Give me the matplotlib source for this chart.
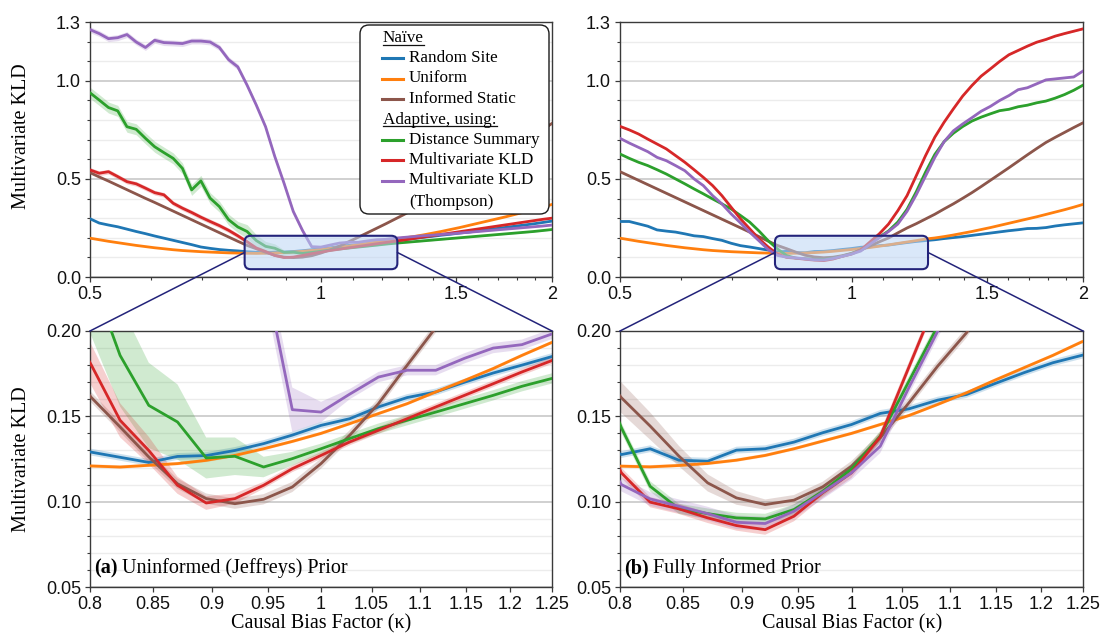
import numpy as np
import matplotlib
matplotlib.use("Agg")
import matplotlib.pyplot as plt
from matplotlib.patches import FancyBboxPatch
from matplotlib.lines import Line2D
from matplotlib.transforms import IdentityTransform
from matplotlib.ticker import FixedLocator, FixedFormatter, NullFormatter

# ---------------- data ----------------
kappa = np.geomspace(0.5, 2.0, 51)   # causal bias factor grid (log-spaced)

# (a) Uninformed (Jeffreys) prior
blue_a = [0.297, 0.275, 0.265, 0.256, 0.244, 0.232, 0.221, 0.209, 0.198, 0.187, 0.176, 0.165, 0.153, 0.146, 0.140, 0.136, 0.133,
          0.129, 0.126, 0.123, 0.1265, 0.127, 0.130, 0.134, 0.139, 0.1447, 0.1486, 0.1555, 0.161, 0.1643, 0.170, 0.1754, 0.180, 0.1848,
          0.190, 0.196, 0.202, 0.207, 0.213, 0.218, 0.224, 0.229, 0.235, 0.241, 0.247, 0.253, 0.259, 0.265, 0.271, 0.278, 0.285]
orange_a = [0.198, 0.190, 0.182, 0.175, 0.168, 0.161, 0.155, 0.149, 0.144, 0.139, 0.135, 0.132, 0.129, 0.127, 0.125, 0.123, 0.122,
            0.1209, 0.1203, 0.1213, 0.1223, 0.1242, 0.1271, 0.131, 0.1353, 0.140, 0.1457, 0.1516, 0.1574, 0.1643, 0.171, 0.178, 0.1857, 0.193,
            0.199, 0.206, 0.214, 0.223, 0.232, 0.242, 0.252, 0.263, 0.274, 0.285, 0.296, 0.307, 0.319, 0.331, 0.343, 0.356, 0.370]
brown_a = [0.532, 0.510, 0.489, 0.467, 0.445, 0.423, 0.401, 0.380, 0.358, 0.336, 0.314, 0.292, 0.270, 0.248, 0.226, 0.204, 0.182,
           0.161, 0.1438, 0.1262, 0.1105, 0.1018, 0.0988, 0.1014, 0.1086, 0.1223, 0.1389, 0.1574, 0.1799, 0.202, 0.225, 0.248, 0.271, 0.295,
           0.319, 0.344, 0.370, 0.396, 0.423, 0.451, 0.479, 0.508, 0.537, 0.567, 0.597, 0.628, 0.659, 0.690, 0.721, 0.752, 0.783]
green_a = [0.939, 0.902, 0.864, 0.847, 0.766, 0.753, 0.707, 0.664, 0.634, 0.605, 0.554, 0.444, 0.490, 0.402, 0.359, 0.292, 0.255,
           0.232, 0.1857, 0.1564, 0.1467, 0.1256, 0.1266, 0.1203, 0.1252, 0.131, 0.137, 0.1428, 0.1477, 0.1525, 0.1574, 0.1623, 0.1676, 0.172,
           0.176, 0.180, 0.184, 0.188, 0.192, 0.196, 0.200, 0.204, 0.208, 0.212, 0.216, 0.220, 0.224, 0.228, 0.232, 0.237, 0.242]
red_a = [0.546, 0.529, 0.537, 0.512, 0.486, 0.475, 0.453, 0.430, 0.419, 0.376, 0.351, 0.329, 0.305, 0.283, 0.262, 0.238, 0.210,
         0.180, 0.1477, 0.130, 0.1096, 0.0992, 0.1018, 0.1096, 0.1193, 0.1271, 0.135, 0.1418, 0.1486, 0.1555, 0.1623, 0.1691, 0.176, 0.1824,
         0.189, 0.196, 0.203, 0.210, 0.217, 0.224, 0.231, 0.238, 0.245, 0.252, 0.259, 0.266, 0.273, 0.280, 0.287, 0.294, 0.300]
purple_a = [1.261, 1.241, 1.215, 1.220, 1.236, 1.198, 1.170, 1.207, 1.195, 1.193, 1.190, 1.203, 1.203, 1.198, 1.170, 1.108, 1.071,
            0.978, 0.876, 0.766, 0.614, 0.478, 0.334, 0.237, 0.1539, 0.1525, 0.163, 0.173, 0.177, 0.177, 0.184, 0.190, 0.192, 0.198,
            0.202, 0.206, 0.210, 0.213, 0.217, 0.220, 0.224, 0.228, 0.232, 0.236, 0.240, 0.244, 0.248, 0.252, 0.256, 0.260, 0.265]

# (b) Fully informed prior
blue_b = [0.283, 0.283, 0.271, 0.259, 0.240, 0.234, 0.229, 0.220, 0.210, 0.206, 0.196, 0.187, 0.172, 0.160, 0.153, 0.145, 0.137,
          0.1276, 0.131, 0.1243, 0.1237, 0.1302, 0.131, 0.1349, 0.1404, 0.1452, 0.1517, 0.1544, 0.1595, 0.1628, 0.1693, 0.1756, 0.1814, 0.1857,
          0.190, 0.196, 0.201, 0.206, 0.212, 0.218, 0.224, 0.230, 0.236, 0.241, 0.247, 0.248, 0.252, 0.260, 0.266, 0.271, 0.276]
orange_b = [0.198, 0.190, 0.182, 0.175, 0.168, 0.161, 0.155, 0.149, 0.144, 0.139, 0.135, 0.132, 0.129, 0.127, 0.125, 0.123, 0.122,
            0.1208, 0.1204, 0.1212, 0.1224, 0.1243, 0.1271, 0.131, 0.1355, 0.140, 0.1452, 0.1505, 0.157, 0.1638, 0.1713, 0.1785, 0.1857, 0.1936,
            0.199, 0.206, 0.214, 0.223, 0.232, 0.242, 0.252, 0.263, 0.274, 0.285, 0.296, 0.307, 0.319, 0.331, 0.343, 0.356, 0.370]
brown_b = [0.537, 0.515, 0.493, 0.471, 0.449, 0.427, 0.405, 0.383, 0.361, 0.339, 0.317, 0.295, 0.273, 0.251, 0.229, 0.206, 0.183,
           0.1609, 0.1443, 0.1267, 0.111, 0.1022, 0.0983, 0.1009, 0.1087, 0.1208, 0.1374, 0.158, 0.1795, 0.199, 0.225, 0.250, 0.272, 0.296,
           0.320, 0.347, 0.373, 0.401, 0.430, 0.461, 0.493, 0.525, 0.557, 0.590, 0.623, 0.655, 0.686, 0.712, 0.737, 0.762, 0.786]
green_b = [0.627, 0.605, 0.585, 0.568, 0.547, 0.525, 0.500, 0.475, 0.449, 0.424, 0.398, 0.373, 0.347, 0.314, 0.280, 0.235, 0.185,
           0.1433, 0.109, 0.0958, 0.093, 0.0905, 0.0899, 0.0954, 0.1061, 0.1192, 0.1384, 0.1707, 0.203, 0.235, 0.280, 0.345, 0.435, 0.535,
           0.625, 0.690, 0.733, 0.767, 0.795, 0.815, 0.832, 0.848, 0.855, 0.868, 0.876, 0.888, 0.897, 0.912, 0.930, 0.952, 0.978]
red_b = [0.768, 0.750, 0.729, 0.703, 0.678, 0.653, 0.619, 0.585, 0.547, 0.508, 0.466, 0.415, 0.356, 0.297, 0.246, 0.195, 0.153,
         0.1169, 0.0997, 0.0958, 0.0905, 0.086, 0.0836, 0.0915, 0.1052, 0.1169, 0.138, 0.179, 0.220, 0.270, 0.338, 0.415, 0.517, 0.619,
         0.713, 0.789, 0.857, 0.922, 0.976, 1.024, 1.061, 1.099, 1.133, 1.155, 1.177, 1.197, 1.211, 1.228, 1.241, 1.253, 1.265]
purple_b = [0.707, 0.683, 0.661, 0.639, 0.610, 0.593, 0.568, 0.542, 0.500, 0.466, 0.415, 0.373, 0.322, 0.276, 0.229, 0.185, 0.140,
            0.110, 0.1016, 0.0973, 0.093, 0.0879, 0.0872, 0.0944, 0.1055, 0.1169, 0.1325, 0.167, 0.200, 0.232, 0.270, 0.335, 0.420, 0.515,
            0.610, 0.690, 0.745, 0.780, 0.812, 0.845, 0.870, 0.900, 0.925, 0.955, 0.965, 0.985, 1.005, 1.010, 1.015, 1.020, 1.050]

# uncertainty band half-widths
green_a_band = [0.028] * 17 + [0.035, 0.03, 0.025, 0.022, 0.012, 0.011, 0.006, 0.004] + [0.003] * 26
red_a_band = [0.012] * 17 + [0.012, 0.01, 0.008, 0.005, 0.004, 0.003] + [0.002] * 28
purple_a_band = [0.015] * 17 + [0.012] * 7 + [0.013, 0.006] + [0.003] * 25
brown_b_band = [0.006] * 17 + [0.009, 0.008, 0.006, 0.005, 0.004] + [0.003] * 29

labels = ["Random Site", "Uniform", "Informed Static",
          "Distance Summary", "Multivariate KLD", "Multivariate KLD\n(Thompson)"]
colors = ["#1f77b4", "#ff7f0e", "#8c564b", "#2ca02c", "#d62728", "#9467bd"]

series_a = [(blue_a, 0.002), (orange_a, 0.001), (brown_a, 0.003),
            (green_a, green_a_band), (red_a, red_a_band), (purple_a, purple_a_band)]
series_b = [(blue_b, 0.002), (orange_b, 0.001), (brown_b, brown_b_band),
            (green_b, 0.003), (red_b, 0.003), (purple_b, 0.004)]

top_xticks = [0.5, 1, 1.5, 2]
top_xticklabels = ["0.5", "1", "1.5", "2"]
top_xminor = [0.6, 0.7, 0.8, 0.9, 1.1, 1.2, 1.3, 1.4, 1.6, 1.7, 1.8, 1.9]
top_yticks = [0.0, 0.5, 1.0, 1.3]
top_yticklabels = ["0.0", "0.5", "1.0", "1.3"]
bot_xticks = [0.8, 0.85, 0.9, 0.95, 1.0, 1.05, 1.1, 1.15, 1.2, 1.25]
bot_xticklabels = ["0.8", "0.85", "0.9", "0.95", "1", "1.05", "1.1", "1.15", "1.2", "1.25"]
bot_yticks = [0.05, 0.10, 0.15, 0.20]
bot_yticklabels = ["0.05", "0.10", "0.15", "0.20"]

# ---------------- style ----------------
SANS = ["Liberation Sans", "DejaVu Sans"]
SERIF = ["Liberation Serif", "DejaVu Serif"]
plt.rcParams["font.family"] = SANS

W, H = 1103, 636
fig = plt.figure(figsize=(W / 100, H / 100), dpi=100)


def ax_rect(l, t, r, b):
    return [l / W, 1 - b / H, (r - l) / W, (b - t) / H]


ax_tl = fig.add_axes(ax_rect(90, 22, 552, 277))
ax_tr = fig.add_axes(ax_rect(620, 22, 1083, 277))
ax_bl = fig.add_axes(ax_rect(90, 331, 552, 587))
ax_br = fig.add_axes(ax_rect(620, 331, 1083, 587))

SPINE = "#3a3a3a"


def style(ax, top):
    ax.set_xscale("log")
    for s in ax.spines.values():
        s.set_color(SPINE)
        s.set_linewidth(1.0)
    if top:
        ax.set_xlim(0.5, 2.0)
        ax.set_ylim(0.0, 1.3)
        ax.xaxis.set_major_locator(FixedLocator(top_xticks))
        ax.xaxis.set_major_formatter(FixedFormatter(top_xticklabels))
        ax.xaxis.set_minor_locator(FixedLocator(top_xminor))
        ax.yaxis.set_major_locator(FixedLocator(top_yticks))
        ax.yaxis.set_major_formatter(FixedFormatter(top_yticklabels))
        ax.yaxis.set_minor_locator(FixedLocator([0.1, 0.2, 0.3, 0.4, 0.6, 0.7, 0.8, 0.9, 1.1, 1.2]))
    else:
        ax.set_xlim(0.8, 1.25)
        ax.set_ylim(0.05, 0.20)
        ax.xaxis.set_major_locator(FixedLocator(bot_xticks))
        ax.xaxis.set_major_formatter(FixedFormatter(bot_xticklabels))
        ax.xaxis.set_minor_locator(FixedLocator([]))
        ax.yaxis.set_major_locator(FixedLocator(bot_yticks))
        ax.yaxis.set_major_formatter(FixedFormatter(bot_yticklabels))
        ax.yaxis.set_minor_locator(FixedLocator([0.06, 0.07, 0.08, 0.09, 0.11, 0.12, 0.13, 0.14,
                                                 0.16, 0.17, 0.18, 0.19]))
    ax.xaxis.set_minor_formatter(NullFormatter())
    ax.yaxis.set_minor_formatter(NullFormatter())
    ax.tick_params(which="major", direction="out", length=3.5, width=0.9, color=SPINE,
                   labelsize=13, pad=3, labelcolor="#111111")
    ax.tick_params(which="minor", direction="out", length=2.2, width=0.8, color=SPINE)
    ax.grid(True, which="major", axis="y", color="#c8c8c8", lw=1.2, zorder=0)
    ax.grid(True, which="minor", axis="y", color="#ececec", lw=1.0, zorder=0)
    ax.set_axisbelow(True)


for ax, series in [(ax_tl, series_a), (ax_bl, series_a), (ax_tr, series_b), (ax_br, series_b)]:
    style(ax, ax in (ax_tl, ax_tr))
    for (vals, band), c in zip(series, colors):
        v = np.asarray(vals)
        b = np.asarray(band) * np.ones_like(v)
        ax.fill_between(kappa, v - b, v + b, color=c, alpha=0.22, lw=0, zorder=2)
        ax.plot(kappa, v, color=c, lw=2.0, zorder=3, solid_joinstyle="round")

# axis labels
fig.text(22 / W, 1 - 136 / H, "Multivariate KLD", rotation=90, ha="center", va="center",
         family=SERIF, fontsize=14.5)
fig.text(22 / W, 1 - 459 / H, "Multivariate KLD", rotation=90, ha="center", va="center",
         family=SERIF, fontsize=14.5)
fig.text(321 / W, 1 - 624 / H, "Causal Bias Factor (κ)", ha="center", va="center",
         family=SERIF, fontsize=14.5)
fig.text(852 / W, 1 - 624 / H, "Causal Bias Factor (κ)", ha="center", va="center",
         family=SERIF, fontsize=14.5)

# ---------------- zoom boxes + connectors ----------------
NAVY = "#23237a"
for top, bot in [(ax_tl, ax_bl), (ax_tr, ax_br)]:
    (x0, y0) = top.transData.transform((0.8, 0.05))
    (x1, y1) = top.transData.transform((1.25, 0.20))
    pad = 2.0
    rect = FancyBboxPatch((x0 - pad, y0 - pad), (x1 - x0) + 2 * pad, (y1 - y0) + 2 * pad,
                          boxstyle="round,pad=0,rounding_size=6",
                          transform=IdentityTransform(), facecolor=(0.74, 0.84, 0.96, 0.55),
                          edgecolor=NAVY, lw=1.5, zorder=6)
    fig.add_artist(rect)
    ym = (y0 + y1) / 2
    (bx0, by1) = bot.transAxes.transform((0, 1))
    (bx1, _) = bot.transAxes.transform((1, 1))
    fig.add_artist(Line2D([x0 - pad, bx0], [ym, by1], transform=IdentityTransform(),
                          color=NAVY, lw=1.1, zorder=5))
    fig.add_artist(Line2D([x1 + pad, bx1], [ym, by1], transform=IdentityTransform(),
                          color=NAVY, lw=1.1, zorder=5))

# ---------------- legend (manual) ----------------
def disp(x, y):
    return x, H - y


lx0, ly0 = disp(360, 214)
lx1, ly1 = disp(549, 25)
legbox = FancyBboxPatch((lx0, ly0), lx1 - lx0, ly1 - ly0,
                        boxstyle="round,pad=0,rounding_size=9", transform=IdentityTransform(),
                        facecolor="white", edgecolor="#1a1a1a", lw=1.0, zorder=7)
fig.add_artist(legbox)

LFS = 12.3
rows = [("Naïve", None, 38.5), (labels[0], colors[0], 58.0), (labels[1], colors[1], 78.5),
        (labels[2], colors[2], 99.0), ("Adaptive, using:", None, 119.5),
        (labels[3], colors[3], 139.5), (labels[4], colors[4], 160.0),
        (labels[5], colors[5], 180.5)]
headers = []
for text, c, yc in rows:
    if c is None:
        t = fig.text(383 / W, 1 - yc / H, text, ha="left", va="center", family=SERIF,
                     fontsize=LFS, zorder=8)
        headers.append(t)
    else:
        fig.add_artist(Line2D([382 / W, 403 / W], [1 - yc / H, 1 - yc / H],
                              transform=fig.transFigure, color=c, lw=2.2, zorder=8))
        fig.text(409 / W, 1 - yc / H, text.split("\n")[0], ha="left", va="center",
                 family=SERIF, fontsize=LFS, zorder=8)
        if "\n" in text:
            fig.text(409 / W, 1 - (yc + 21) / H, text.split("\n")[1], ha="left", va="center",
                     family=SERIF, fontsize=LFS, zorder=8)

# panel labels
pa1 = ax_bl.text(0.008, 0.035, "(a)", transform=ax_bl.transAxes, family=SERIF,
                 fontweight="bold", fontsize=14.5, ha="left", va="bottom", zorder=9)
pb1 = ax_br.text(0.008, 0.035, "(b)", transform=ax_br.transAxes, family=SERIF,
                 fontweight="bold", fontsize=14.5, ha="left", va="bottom", zorder=9)

fig.canvas.draw()
renderer = fig.canvas.get_renderer()
for t in headers:
    bb = t.get_window_extent(renderer)
    yb = bb.y0 + 2.0
    fig.add_artist(Line2D([bb.x0, bb.x1], [yb, yb], transform=IdentityTransform(),
                          color="#111111", lw=0.9, zorder=8))

for ax, lbl, txt in [(ax_bl, pa1, " Uninformed (Jeffreys) Prior"), (ax_br, pb1, " Fully Informed Prior")]:
    bb = lbl.get_window_extent(renderer)
    xa, ya = ax.transAxes.inverted().transform((bb.x1, bb.y0))
    ax.text(xa, 0.035, txt, transform=ax.transAxes, family=SERIF, fontsize=14.5,
            ha="left", va="bottom", zorder=9)

fig.savefig("out.png", dpi=100)
